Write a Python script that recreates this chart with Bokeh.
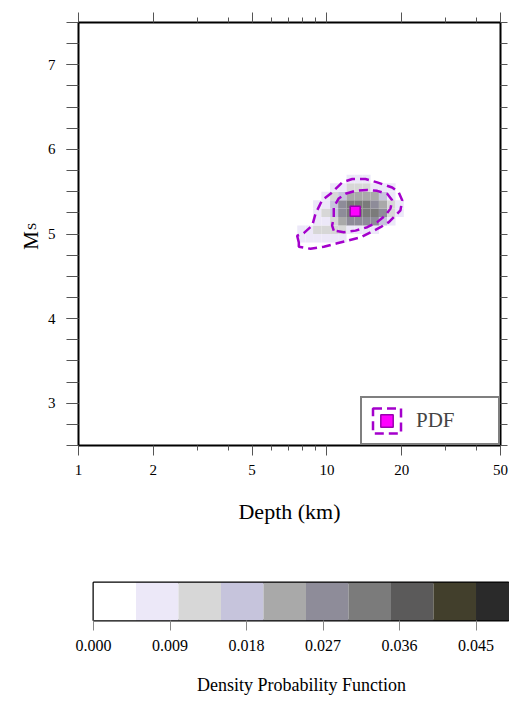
from math import pi
from bokeh.plotting import figure
from bokeh.layouts import column, row
from bokeh.core.properties import value
from bokeh.models import (ColumnDataSource, FixedTicker, LinearAxis, LogAxis, Range1d,
                          Legend, LegendItem, PrintfTickFormatter,
                          CustomJSTickFormatter, LinearColorMapper)
from bokeh.embed import file_html
from bokeh.resources import INLINE

FONT = "Liberation Serif"

# ---------------- data ----------------
depth_edges = [7.0, 7.6, 8.2, 8.8, 9.5, 10.3, 11.1, 12.0, 12.9, 13.9, 15.0, 16.2, 17.5, 18.9, 20.4]
mag_edges = [4.8, 4.9, 5.0, 5.1, 5.2, 5.3, 5.4, 5.5, 5.6, 5.7]
# rows from bottom (4.8-4.9) to top (5.6-5.7)
pdf_rows = [
    [0, 0, 0, 0, 0, 0, 0, 0, 0, 0, 0, 0, 0, 0],
    [0, 0.006, 0.007, 0.008, 0.008, 0.007, 0.006, 0, 0, 0, 0, 0, 0, 0],
    [0, 0.006, 0.007, 0.012, 0.013, 0.013, 0.012, 0.009, 0.008, 0.007, 0.006, 0, 0, 0],
    [0, 0, 0, 0.006, 0.009, 0.014, 0.022, 0.027, 0.029, 0.028, 0.025, 0.019, 0.009, 0],
    [0, 0, 0, 0.006, 0.010, 0.018, 0.028, 0.033, 0.034, 0.034, 0.031, 0.026, 0.014, 0.006],
    [0, 0, 0, 0.006, 0.009, 0.016, 0.026, 0.031, 0.033, 0.032, 0.030, 0.024, 0.013, 0.006],
    [0, 0, 0, 0, 0.006, 0.012, 0.018, 0.022, 0.024, 0.024, 0.021, 0.016, 0.009, 0],
    [0, 0, 0, 0, 0, 0.006, 0.008, 0.012, 0.013, 0.012, 0.009, 0.007, 0.006, 0],
    [0, 0, 0, 0, 0, 0, 0, 0.006, 0.006, 0.006, 0, 0, 0, 0],
]

level_low = 0.0
level_high = 0.05
level_colors = ["#ffffff", "#ece8f8", "#d7d7d7", "#c6c4dc", "#a9a9a9",
                "#8e8c99", "#7b7b7b", "#5b5a5a", "#423f2c", "#2a2a2a"]

best_depth = [13.0]
best_mag = [5.27]

outer_depth = [7.71, 7.59, 8.07, 8.73, 9.00, 9.57, 10.34, 11.16, 11.53, 12.65, 14.30, 15.94,
               18.32, 19.48, 20.10, 19.78, 18.89, 17.76, 16.44, 14.98, 13.66, 12.07, 11.00,
               9.72, 8.59, 7.71]
outer_mag = [4.90, 4.98, 5.01, 5.10, 5.24, 5.40, 5.475, 5.57, 5.61, 5.65, 5.65, 5.61,
             5.55, 5.49, 5.40, 5.28, 5.22, 5.14, 5.08, 5.02, 4.96, 4.92, 4.89,
             4.85, 4.825, 4.85]

inner_depth = [10.66, 10.50, 10.66, 10.66, 11.16, 11.88, 13.04, 14.53, 15.94, 17.49, 18.32,
               18.03, 17.21, 15.94, 14.53, 13.04, 11.70]
inner_mag = [5.04, 5.10, 5.20, 5.32, 5.42, 5.475, 5.51, 5.52, 5.51, 5.475, 5.40,
             5.30, 5.22, 5.14, 5.08, 5.04, 5.02]

x_major = [1, 2, 5, 10, 20, 50]
x_minor = [3, 4, 6, 7, 8, 9, 30, 40]
y_major = [3, 4, 5, 6, 7]
y_minor = [2.5, 2.75, 3.0, 3.25, 3.5, 3.75, 4.0, 4.25, 4.5, 4.75, 5.0, 5.25, 5.5, 5.75,
           6.0, 6.25, 6.5, 6.75, 7.0, 7.25, 7.5]
cbar_ticks = [0.0, 0.009, 0.018, 0.027, 0.036, 0.045]

y_title_main = ["M"]
y_title_sub = ["S"]

CONTOUR = "#a400cc"
TICK = "#555555"

# ---------------- y title strip (M with subscript S) ----------------
lab = figure(width=44, height=530, x_range=Range1d(0, 44), y_range=Range1d(530, 0),
             output_backend="svg", toolbar_location=None,
             x_axis_location=None, y_axis_location=None, min_border=0)
lab.frame_align = False
lab.grid.visible = False
lab.outline_line_color = None
lab.background_fill_color = "white"
lab.border_fill_color = "white"
lab.text(x=[30], y=[240], text=y_title_main, angle=pi / 2, text_align="center",
         text_baseline="alphabetic", text_font=value(FONT), text_font_size="21px",
         text_color="black")
lab.text(x=[30.5], y=[226], text=y_title_sub, angle=pi / 2, text_align="center",
         text_baseline="alphabetic", text_font=value(FONT), text_font_size="13px",
         text_color="black")

# ---------------- main plot ----------------
cells = dict(left=[], right=[], bottom=[], top=[], val=[])
for i, r in enumerate(pdf_rows):
    for j, v in enumerate(r):
        if v > 0:
            cells["left"].append(depth_edges[j])
            cells["right"].append(depth_edges[j + 1])
            cells["bottom"].append(mag_edges[i])
            cells["top"].append(mag_edges[i + 1])
            cells["val"].append(v)

mapper = LinearColorMapper(palette=level_colors, low=level_low, high=level_high)

p = figure(width=465, height=530, x_axis_type="log",
           x_range=Range1d(1, 50), y_range=Range1d(2.5, 7.5),
           output_backend="svg", toolbar_location=None,
           min_border_left=34, min_border_right=9, min_border_top=22, min_border_bottom=85)
p.frame_align = False
p.background_fill_color = "white"
p.border_fill_color = "white"
p.grid.visible = False
p.outline_line_color = "black"
p.outline_line_width = 2

p.quad(left="left", right="right", bottom="bottom", top="top",
       source=ColumnDataSource(cells),
       fill_color={"field": "val", "transform": mapper}, line_color=None)

outer_r = p.patch(outer_depth, outer_mag, fill_color=None, line_color=CONTOUR,
                  line_width=2.5, line_dash="9 5")
p.patch(inner_depth, inner_mag, fill_color=None, line_color=CONTOUR,
        line_width=2.5, line_dash="9 5")
best_r = p.scatter(best_depth, best_mag, marker="square", size=10,
                   fill_color="#ff00ff", line_color="#9a00b0", line_width=1.5)

# bottom axis
xa = p.xaxis[0]
xa.ticker = FixedTicker(ticks=x_major, minor_ticks=x_minor)
xa.formatter = PrintfTickFormatter(format="%d")
xa.axis_line_color = None
xa.major_tick_in = 0
xa.major_tick_out = 10
xa.minor_tick_in = 0
xa.minor_tick_out = 5
xa.major_tick_line_color = TICK
xa.minor_tick_line_color = TICK
xa.major_label_text_font = FONT
xa.major_label_text_font_size = "15px"
xa.major_label_text_color = "black"
xa.major_label_standoff = 9
xa.axis_label = "Depth (km)"
xa.axis_label_text_font = FONT
xa.axis_label_text_font_size = "22px"
xa.axis_label_text_font_style = "normal"
xa.axis_label_text_color = "black"
xa.axis_label_standoff = 21

# left axis
ya = p.yaxis[0]
ya.ticker = FixedTicker(ticks=y_major, minor_ticks=y_minor)
ya.axis_line_color = None
ya.major_tick_in = 0
ya.major_tick_out = 12
ya.minor_tick_in = 0
ya.minor_tick_out = 12
ya.major_tick_line_color = TICK
ya.minor_tick_line_color = TICK
ya.major_label_text_font = FONT
ya.major_label_text_font_size = "15px"
ya.major_label_text_color = "black"
ya.major_label_standoff = 11

# top axis (ticks only)
top_axis = LogAxis(ticker=FixedTicker(ticks=x_major, minor_ticks=x_minor),
                   formatter=CustomJSTickFormatter(code="return ''"),
                   axis_line_color=None, major_tick_in=0, major_tick_out=10,
                   minor_tick_in=0, minor_tick_out=5,
                   major_tick_line_color=TICK, minor_tick_line_color=TICK,
                   major_label_text_font_size="1px", major_label_standoff=0)
p.add_layout(top_axis, "above")

# right axis (ticks only)
right_axis = LinearAxis(ticker=FixedTicker(ticks=[], minor_ticks=y_minor),
                        axis_line_color=None, major_tick_in=0, major_tick_out=7,
                        minor_tick_in=0, minor_tick_out=7,
                        major_tick_line_color=TICK, minor_tick_line_color=TICK,
                        major_label_text_font_size="1px", major_label_standoff=0)
p.add_layout(right_axis, "right")

legend = Legend(items=[LegendItem(label="PDF", renderers=[outer_r, best_r])],
                location="bottom_right", margin=0, padding=7, spacing=0,
                glyph_width=35, glyph_height=31, label_standoff=12, label_width=75,
                label_height=20,
                label_text_font=FONT, label_text_font_size="21px",
                border_line_color="black", border_line_width=2,
                background_fill_color="white", background_fill_alpha=1.0)
p.add_layout(legend)

# ---------------- colour bar ----------------
cb = figure(width=509, height=171, x_range=Range1d(0, 0.04894), y_range=Range1d(0, 1),
            output_backend="svg", toolbar_location=None, y_axis_location=None,
            min_border_left=93, min_border_right=0, min_border_top=52, min_border_bottom=81)
cb.frame_align = False
cb.grid.visible = False
cb.background_fill_color = "white"
cb.border_fill_color = "white"
cb.outline_line_color = "black"
cb.outline_line_width = 2

n = len(level_colors)
step = (level_high - level_low) / n
seg = dict(left=[level_low + k * step for k in range(n)],
           right=[level_low + (k + 1) * step for k in range(n)],
           color=level_colors)
cb.quad(left="left", right="right", bottom=0, top=1, fill_color="color",
        line_color=None, source=ColumnDataSource(seg))

ca = cb.xaxis[0]
ca.ticker = FixedTicker(ticks=cbar_ticks, minor_ticks=[])
ca.formatter = PrintfTickFormatter(format="%.3f")
ca.axis_line_color = None
ca.major_tick_in = 0
ca.major_tick_out = 10
ca.minor_tick_out = 0
ca.major_tick_line_color = "#888888"
ca.major_label_text_font = FONT
ca.major_label_text_font_size = "16px"
ca.major_label_text_color = "black"
ca.major_label_standoff = 9
ca.axis_label = "Density Probability Function"
ca.axis_label_text_font = FONT
ca.axis_label_text_font_size = "18px"
ca.axis_label_text_font_style = "normal"
ca.axis_label_text_color = "black"
ca.axis_label_standoff = 21

layout = column(row(lab, p, spacing=0), cb, spacing=0)
open("out.html", "w").write(file_html(layout, INLINE))
